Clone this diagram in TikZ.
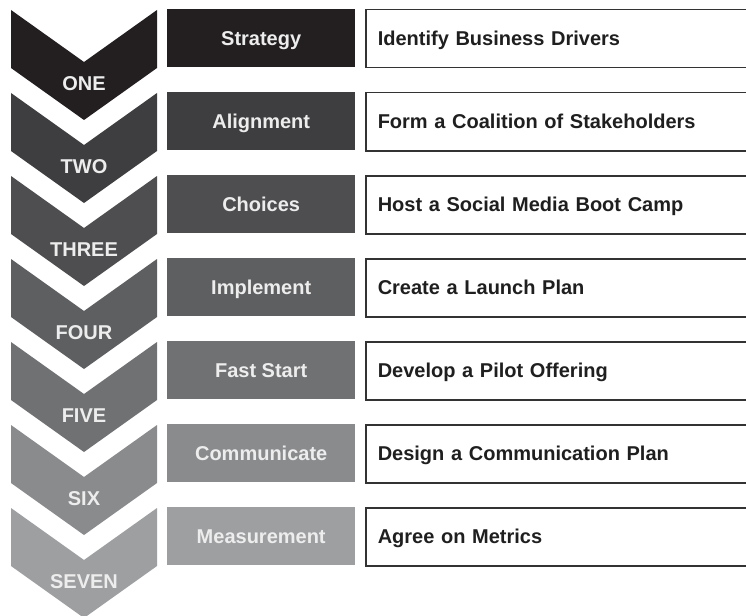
\documentclass[tikz,border=0pt]{standalone}
\usepackage{fontspec}
\setmainfont{Liberation Sans}
\definecolor{g1}{HTML}{231F20}
\definecolor{g2}{HTML}{3E3E40}
\definecolor{g3}{HTML}{4E4E50}
\definecolor{g4}{HTML}{5E5F61}
\definecolor{g5}{HTML}{707173}
\definecolor{g6}{HTML}{8A8B8D}
\definecolor{g7}{HTML}{9E9FA1}
\definecolor{lbl}{HTML}{EDEDED}
\definecolor{frame}{HTML}{333333}
\begin{document}
\begin{tikzpicture}[x=1pt,y=-1pt,
  bigfont/.style={font=\bfseries\fontsize{20}{24}\selectfont, text height=18pt, text depth=3.7pt},
  steplabel/.style={bigfont, text=lbl, inner sep=0pt},
  phasebox/.style={fill=#1, draw=none, minimum width=188pt, minimum height=58pt,
    inner sep=0pt, anchor=north west, bigfont, text=lbl},
  taskbox/.style={draw=frame, line width=1.5pt, fill=white, minimum height=58pt,
    text width=372pt, inner xsep=12pt, inner ysep=0pt, anchor=north west,
    align=left, bigfont, text=black!88}]
\useasboundingbox (0,0) rectangle (746,615);
\fill[white] (0,0) rectangle (746,615);
\foreach \k/\num/\phase/\task/\col in {
  0/ONE/Strategy/Identify Business Drivers/g1,
  1/TWO/Alignment/Form a Coalition of Stakeholders/g2,
  2/THREE/Choices/Host a Social Media Boot Camp/g3,
  3/FOUR/Implement/Create a Launch Plan/g4,
  4/FIVE/Fast Start/Develop a Pilot Offering/g5,
  5/SIX/Communicate/Design a Communication Plan/g6,
  6/SEVEN/Measurement/Agree on Metrics/g7}{
  \pgfmathsetmacro{\ya}{10+83*\k}
  \fill[\col] (11,\ya) -- (84,\ya+52) -- (157,\ya) -- (157,\ya+58)
      -- (84,\ya+110) -- (11,\ya+58) -- cycle;
  \node[steplabel] (step\k) at (84,\ya+73) {\num};
  \node[phasebox=\col] (phase\k) at (167,\ya-1) {\phase};
  \node[taskbox] (task\k) at (365,\ya-1) {\task};
}
\end{tikzpicture}
\end{document}
